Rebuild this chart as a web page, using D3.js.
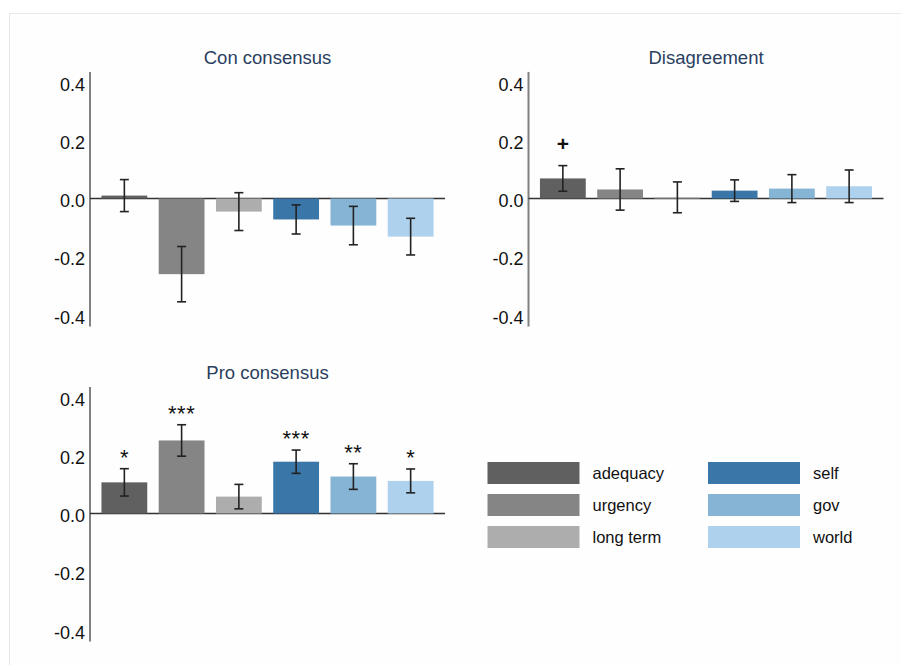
<!DOCTYPE html>
<html>
<head>
<meta charset="utf-8">
<script src="https://cdn.jsdelivr.net/npm/d3@7"></script>
<style>
  html, body { margin: 0; padding: 0; background: #ffffff; }
  svg { display: block; font-family: "Liberation Sans", Arial, Helvetica, sans-serif; }
</style>
</head>
<body>
<svg id="chart" width="901" height="665"></svg>
<script>
// Categories and their fill colours
const categories = ["adequacy", "urgency", "long term", "self", "gov", "world"];
const colors = ["#606060", "#858585", "#adadad", "#3a76a7", "#86b4d4", "#aed1ed"];

// Panel titles
const panelTitles = ["Con consensus", "Disagreement", "Pro consensus"];

// Estimates and error-bar half widths per panel
const conValues = [0.010, -0.260, -0.045, -0.072, -0.093, -0.131];
const conErrors = [0.055, 0.095, 0.065, 0.050, 0.066, 0.063];
const conMarks  = ["", "", "", "", "", ""];

const disValues = [0.069, 0.031, 0.004, 0.027, 0.034, 0.042];
const disErrors = [0.044, 0.071, 0.053, 0.037, 0.048, 0.056];
const disMarks  = ["+", "", "", "", "", ""];

const proValues = [0.107, 0.251, 0.058, 0.178, 0.127, 0.112];
const proErrors = [0.047, 0.054, 0.042, 0.040, 0.044, 0.041];
const proMarks  = ["*", "***", "", "***", "**", "*"];

// Y tick values
const yTicks = [-0.4, -0.2, 0.0, 0.2, 0.4];

const svg = d3.select("#chart");

// light frame around the figure
svg.append("rect")
  .attr("x", 9.5).attr("y", 13.5)
  .attr("width", 910).attr("height", 670)
  .attr("fill", "#fefefe")
  .attr("stroke", "#e6e8ea")
  .attr("stroke-width", 1);

const panelLayout = [
  { axisX: 90,    zeroY: 198.5 },
  { axisX: 528.5, zeroY: 198.5 },
  { axisX: 90,    zeroY: 513.5 }
];
const panelData = [
  { values: conValues, errors: conErrors, marks: conMarks },
  { values: disValues, errors: disErrors, marks: disMarks },
  { values: proValues, errors: proErrors, marks: proMarks }
];

const plotWidth = 355;
const halfSpan = 116.4; // pixels for 0.4

panelData.forEach((pd, p) => {
  const lay = panelLayout[p];
  const g = svg.append("g");

  const x = d3.scaleBand()
    .domain(categories)
    .range([lay.axisX, lay.axisX + plotWidth])
    .paddingInner(0.2)
    .paddingOuter(0.2);

  const y = d3.scaleLinear()
    .domain([-0.4, 0.4])
    .range([lay.zeroY + halfSpan, lay.zeroY - halfSpan]);

  // title
  g.append("text")
    .attr("x", lay.axisX + plotWidth / 2)
    .attr("y", y(0.4) - 18)
    .attr("text-anchor", "middle")
    .attr("font-size", 18.5)
    .attr("fill", "#2a3f5f")
    .text(panelTitles[p]);

  // y axis (labels only, no tick marks)
  const yAxis = d3.axisLeft(y)
    .tickValues(yTicks)
    .tickSize(0)
    .tickPadding(5)
    .tickFormat(d3.format(".1f"));
  const ax = g.append("g")
    .attr("transform", `translate(${lay.axisX},0)`)
    .call(yAxis);
  ax.select(".domain").remove();
  ax.selectAll("text")
    .attr("font-size", 18)
    .attr("font-family", "\"Liberation Sans\", Arial, sans-serif")
    .attr("fill", "#111")
    .attr("dy", "0.45em")
    .text(d => d3.format(".1f")(d).replace("\u2212", "-"));

  // vertical axis line
  g.append("line")
    .attr("x1", lay.axisX).attr("x2", lay.axisX)
    .attr("y1", y(0.435)).attr("y2", y(-0.44))
    .attr("stroke", "#808080")
    .attr("stroke-width", 2);

  // zero line
  g.append("line")
    .attr("x1", lay.axisX).attr("x2", lay.axisX + plotWidth)
    .attr("y1", y(0)).attr("y2", y(0))
    .attr("stroke", "#333")
    .attr("stroke-width", 1.4);

  // bars
  g.selectAll("rect.bar")
    .data(categories)
    .join("rect")
    .attr("class", "bar")
    .attr("x", d => x(d))
    .attr("width", x.bandwidth())
    .attr("y", (d, i) => y(Math.max(0, pd.values[i])))
    .attr("height", (d, i) => Math.abs(y(pd.values[i]) - y(0)))
    .attr("fill", (d, i) => colors[i]);

  // error bars
  const capHalf = 4.5;
  categories.forEach((c, i) => {
    const cx = x(c) + x.bandwidth() / 2;
    const lo = y(pd.values[i] - pd.errors[i]);
    const hi = y(pd.values[i] + pd.errors[i]);
    const eg = g.append("g")
      .attr("stroke", "#222")
      .attr("stroke-width", 1.6);
    eg.append("line").attr("x1", cx).attr("x2", cx).attr("y1", hi).attr("y2", lo);
    eg.append("line").attr("x1", cx - capHalf).attr("x2", cx + capHalf).attr("y1", hi).attr("y2", hi);
    eg.append("line").attr("x1", cx - capHalf).attr("x2", cx + capHalf).attr("y1", lo).attr("y2", lo);

    const m = pd.marks[i];
    if (m) {
      const isPlus = m === "+";
      g.append("text")
        .attr("x", cx)
        .attr("y", hi - (isPlus ? 15 : 4))
        .attr("text-anchor", "middle")
        .attr("font-size", isPlus ? 21 : 22)
        .attr("font-weight", isPlus ? "bold" : "normal")
        .attr("letter-spacing", m.length > 1 ? 0.5 : 0)
        .attr("fill", "#111")
        .text(m);
    }
  });
});

// legend: two columns of three
const legend = svg.append("g");
const legendCols = [487.5, 708];
const legendRows = [462, 494, 526];
categories.forEach((c, i) => {
  const col = Math.floor(i / 3);
  const row = i % 3;
  const lx = legendCols[col];
  const ly = legendRows[row];
  legend.append("rect")
    .attr("x", lx).attr("y", ly)
    .attr("width", 92).attr("height", 22)
    .attr("fill", colors[i]);
  legend.append("text")
    .attr("x", lx + 105)
    .attr("y", ly + 11)
    .attr("dy", "0.36em")
    .attr("font-size", 16.5)
    .attr("fill", "#111")
    .text(c);
});
</script>
</body>
</html>
